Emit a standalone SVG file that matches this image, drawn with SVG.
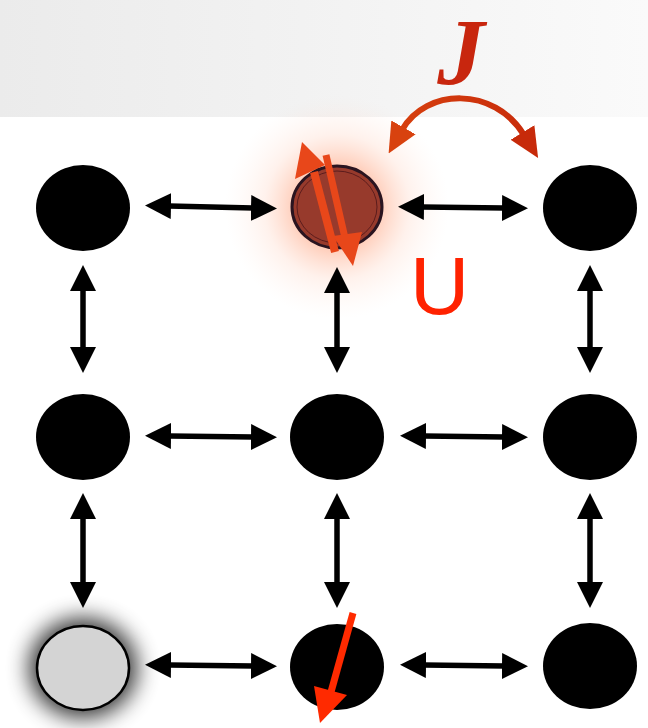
<svg xmlns="http://www.w3.org/2000/svg" width="648" height="728" viewBox="0 0 648 728">
  <defs>
    <style>
      .site { fill: #000; }
      .link { stroke: #000; stroke-width: 5.5; fill: none; marker-start: url(#head); marker-end: url(#head); }
      .label-u { font-family: "Liberation Sans", Arial, sans-serif; font-size: 82px; fill: #ff2200; }
      .label-j { font-family: "Liberation Serif", "Times New Roman", serif; font-style: italic; font-weight: bold; font-size: 95px; fill: #c8260e; }
    </style>
    <linearGradient id="band" x1="0" y1="0" x2="1" y2="0">
      <stop offset="0" stop-color="#ebebeb"/>
      <stop offset="1" stop-color="#fafafa"/>
    </linearGradient>
    <radialGradient id="glow" cx="337" cy="207" r="112" gradientUnits="userSpaceOnUse">
      <stop offset="0.38" stop-color="#ff8a5c" stop-opacity="0.42"/>
      <stop offset="0.65" stop-color="#ffb090" stop-opacity="0.17"/>
      <stop offset="1" stop-color="#ffd8c8" stop-opacity="0"/>
    </radialGradient>
    <linearGradient id="hopStroke" x1="383" y1="0" x2="540" y2="0" gradientUnits="userSpaceOnUse">
      <stop offset="0" stop-color="#d8420f"/>
      <stop offset="1" stop-color="#c72a0a"/>
    </linearGradient>
    <filter id="shade" x="-60%" y="-60%" width="220%" height="220%">
      <feGaussianBlur stdDeviation="11"/>
    </filter>
    <marker id="head" viewBox="0 0 26 26" markerWidth="26" markerHeight="26" refX="2" refY="13" orient="auto-start-reverse" markerUnits="userSpaceOnUse">
      <path d="M0,0 L26,13 L0,26 z" fill="#000"/>
    </marker>
    <marker id="hopL" viewBox="0 0 30 28" markerWidth="30" markerHeight="28" refX="3" refY="14" orient="auto-start-reverse" markerUnits="userSpaceOnUse">
      <path d="M0,0 L30,14 L0,28 z" fill="#d8420f"/>
    </marker>
    <marker id="hopR" viewBox="0 0 30 28" markerWidth="30" markerHeight="28" refX="3" refY="14" orient="auto" markerUnits="userSpaceOnUse">
      <path d="M0,0 L30,14 L0,28 z" fill="#c72a0a"/>
    </marker>
  </defs>

  <!-- background band -->
  <rect x="0" y="0" width="648" height="728" fill="#fff"/>
  <rect x="0" y="0" width="648" height="117" fill="url(#band)"/>

  <!-- glow around the doubly occupied site -->
  <rect x="200" y="90" width="280" height="240" fill="url(#glow)"/>

  <!-- nearest-neighbour links -->
  <g id="connectors">
    <!-- row 1 -->
    <line class="link" x1="169" y1="206" x2="253" y2="208"/>
    <line class="link" x1="422" y1="207" x2="504" y2="208"/>
    <!-- row 2 -->
    <line class="link" x1="169" y1="436" x2="253" y2="437"/>
    <line class="link" x1="424" y1="436" x2="504" y2="437"/>
    <!-- row 3 -->
    <line class="link" x1="169" y1="665" x2="253" y2="666"/>
    <line class="link" x1="424" y1="665" x2="504" y2="666"/>
    <!-- column 1 -->
    <line class="link" x1="83" y1="289" x2="83" y2="349"/>
    <line class="link" x1="83" y1="517" x2="83" y2="584"/>
    <!-- column 2 -->
    <line class="link" x1="337" y1="291" x2="337" y2="349"/>
    <line class="link" x1="337" y1="517" x2="337" y2="584"/>
    <!-- column 3 -->
    <line class="link" x1="590" y1="289" x2="590" y2="349"/>
    <line class="link" x1="590" y1="517" x2="590" y2="584"/>
    <!-- hopping arc -->
    <path d="M402,130 C426,88 494,86 524,135" fill="none" stroke="url(#hopStroke)" stroke-width="6" marker-start="url(#hopL)" marker-end="url(#hopR)"/>
  </g>

  <!-- sites -->
  <g id="site-0-0"><ellipse class="site" cx="83" cy="208" rx="47" ry="43"/></g>
  <g id="site-0-1">
    <ellipse cx="337" cy="207" rx="45" ry="41" fill="#973a2c" stroke="#2a1420" stroke-width="3"/>
    <ellipse cx="337" cy="207" rx="40" ry="36" fill="none" stroke="#5c1c1c" stroke-width="1"/>
    <!-- spin up -->
    <line x1="335" y1="252" x2="314" y2="172" stroke="#e8471a" stroke-width="8"/>
    <polygon points="302,142 295,179 325,165" fill="#e8471a"/>
    <!-- spin down -->
    <line x1="326" y1="155" x2="345" y2="238" stroke="#e8471a" stroke-width="7"/>
    <polygon points="353,266 333,236 362,232" fill="#e8471a"/>
  </g>
  <g id="site-0-2"><ellipse class="site" cx="590" cy="208" rx="47" ry="43"/></g>

  <g id="site-1-0"><ellipse class="site" cx="83" cy="437" rx="47" ry="43"/></g>
  <g id="site-1-1"><ellipse class="site" cx="337" cy="437" rx="47" ry="43"/></g>
  <g id="site-1-2"><ellipse class="site" cx="590" cy="437" rx="47" ry="43"/></g>

  <g id="site-2-0">
    <ellipse cx="83" cy="668" rx="54" ry="50" fill="#000" opacity="0.8" filter="url(#shade)"/>
    <ellipse cx="83" cy="668" rx="46" ry="42" fill="#d4d4d4" stroke="#000" stroke-width="2.5"/>
  </g>
  <g id="site-2-1">
    <ellipse class="site" cx="337" cy="667" rx="47" ry="43"/>
    <line x1="353" y1="613" x2="331" y2="692" stroke="#ff2a00" stroke-width="7"/>
    <polygon points="320,723 314,686 347,695" fill="#ff2a00"/>
  </g>
  <g id="site-2-2"><ellipse class="site" cx="590" cy="666" rx="47" ry="43"/></g>

  <!-- labels -->
  <text class="label-j" x="461" y="85" text-anchor="middle">J</text>
  <text class="label-u" x="410" y="314">U</text>
</svg>
